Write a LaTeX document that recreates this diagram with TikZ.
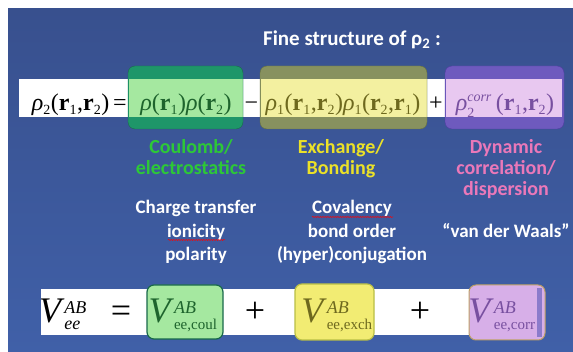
\documentclass[tikz,border=0pt]{standalone}
\usepackage{amsmath}
\usepackage{fontspec}
\setmainfont{Liberation Serif}
\setsansfont{Carlito}
\usetikzlibrary{decorations.pathmorphing}
\DeclareMathSizes{24}{24}{14}{10}
\DeclareMathSizes{36}{36}{18}{15}
\newcommand{\rhoit}{\textit{ρ}}
\newcommand{\vecr}[1]{\textbf{r}\textsubscript{#1}}
\newcommand{\vterm}[1]{\textit{V}$^{\text{\itshape AB}}_{\scriptscriptstyle\text{#1}}$}

\definecolor{slidetop}{RGB}{56,80,142}
\definecolor{slidemid}{RGB}{112,142,205}
\definecolor{slidebot}{RGB}{64,96,168}
\definecolor{gdark}{RGB}{30,150,105}
\definecolor{glight}{RGB}{165,232,160}
\definecolor{gline}{RGB}{25,105,75}
\definecolor{gtext}{RGB}{30,100,45}
\definecolor{ydark}{RGB}{135,145,95}
\definecolor{ylight}{RGB}{243,240,160}
\definecolor{yline}{RGB}{105,115,60}
\definecolor{ytext}{RGB}{110,105,30}
\definecolor{pdark}{RGB}{110,90,190}
\definecolor{plight}{RGB}{232,200,240}
\definecolor{pline}{RGB}{80,60,160}
\definecolor{ptext}{RGB}{120,80,160}
\definecolor{coultag}{RGB}{45,200,55}
\definecolor{exchtag}{RGB}{235,225,40}
\definecolor{corrtag}{RGB}{235,120,185}
\definecolor{yfill}{RGB}{242,236,115}
\definecolor{ybord}{RGB}{185,190,70}
\definecolor{pfill}{RGB}{215,175,232}
\definecolor{pbord}{RGB}{190,160,100}

\tikzset{
  eqn/.style={font=\fontsize{24}{28}\selectfont, inner sep=0pt, anchor=base},
  eqnb/.style={font=\fontsize{36}{40}\selectfont, inner sep=0pt, anchor=base},
  tag/.style={font=\sffamily\bfseries\fontsize{20}{21}\selectfont, align=center,
    anchor=north, inner sep=0pt},
  note/.style={font=\sffamily\bfseries\fontsize{19}{23.5}\selectfont, align=center,
    anchor=north, inner sep=0pt, text=white},
  squiggle/.style={red, line width=0.5pt, decorate,
    decoration={snake, amplitude=0.6pt, segment length=2.5pt}},
}

\begin{document}
\begin{tikzpicture}[x=1pt, y=-1pt]
  \useasboundingbox (0,0) rectangle (573,352);
  \fill[white] (0,0) rectangle (573,352);
  \shade[top color=slidetop, middle color=slidemid, bottom color=slidebot]
    (8,9) rectangle (573,352);

  % title
  \node[font=\sffamily\bfseries\fontsize{21}{25}\selectfont, text=white]
    (title) at (352,40) {Fine structure of ρ\textsubscript{2} :};

  % top row: band and boxes
  \fill[white] (19,79) rectangle (562,117);
  \fill[gdark, rounded corners=7pt] (128,66) rectangle (243,129);
  \fill[glight] (128.5,79) rectangle (242.5,117);
  \draw[gline, rounded corners=7pt] (128,66) rectangle (243,129);
  \fill[ydark, rounded corners=7pt] (260,66) rectangle (427,129);
  \fill[ylight] (260.5,79) rectangle (426.5,117);
  \draw[yline, rounded corners=7pt] (260,66) rectangle (427,129);
  \fill[pdark, rounded corners=7pt] (445,66) rectangle (564,129);
  \fill[plight] (445.5,79) rectangle (562,117);
  \draw[pline, rounded corners=7pt] (445,66) rectangle (564,129);

  \node[eqn, anchor=base east] (rho2) at (127,111)
    {\rhoit\textsubscript{2}(\vecr{1},\vecr{2})\,=};
  \node[eqn, text=gtext] (coul) at (186,111) {\rhoit(\vecr{1})\rhoit(\vecr{2})};
  \node[eqn] (minus) at (251.5,111) {−};
  \node[eqn, text=ytext] (exch) at (343,111)
    {\rhoit\textsubscript{1}(\vecr{1},\vecr{2})\rhoit\textsubscript{1}(\vecr{2},\vecr{1})};
  \node[eqn] (plus) at (436,111) {+};
  \node[eqn, text=ptext] (corr) at (505,111)
    {\rhoit$^{\text{\itshape corr}}_{\text{2}}$\,(\vecr{1},\vecr{2})};

  % what each term stands for
  \node[tag, text=coultag] (coultag) at (191,139) {Coulomb/\\electrostatics};
  \node[tag, text=exchtag] (exchtag) at (341,139) {Exchange/\\Bonding};
  \node[tag, text=corrtag] (corrtag) at (506,139) {Dynamic\\correlation/\\dispersion};

  \node[note] (coulnote) at (196,200) {Charge transfer\\ionicity\\polarity};
  \node[note] (exchnote) at (352,200) {Covalency\\bond order\\(hyper)conjugation};
  \node[note] (corrnote) at (506,223.5) {“van der Waals”};
  \draw[squiggle] (168,240) -- (225,240);
  \draw[squiggle] (312,217) -- (393,217);

  % bottom row
  \fill[white] (41,289) rectangle (545,335);
  \fill[glight, draw=gline, line width=1.2pt, rounded corners=7pt] (147,285) rectangle (223,339);
  \fill[yfill, draw=ybord, line width=1.2pt, rounded corners=7pt] (295,284) rectangle (374,340);
  \fill[pfill, draw=pbord, line width=1pt, rounded corners=7pt] (469,285) rectangle (545,340);
  \fill[pdark!80] (537,288) rectangle (542,337);

  \node[eqnb] (vee) at (63,323) {\textit{V}$^{\text{\itshape AB}}_{\text{\itshape ee}}$};
  \node[eqnb] (eq) at (121,323) {=};
  \node[eqnb, text=gtext] (vcoul) at (183,323) {\vterm{ee,coul}};
  \node[eqnb] (p1) at (255,323) {+};
  \node[eqnb, text=ytext] (vexch) at (337,323) {\vterm{ee,exch}};
  \node[eqnb] (p2) at (420,323) {+};
  \node[eqnb, text=ptext] (vcorr) at (502,323) {\vterm{ee,corr}};
\end{tikzpicture}
\end{document}
